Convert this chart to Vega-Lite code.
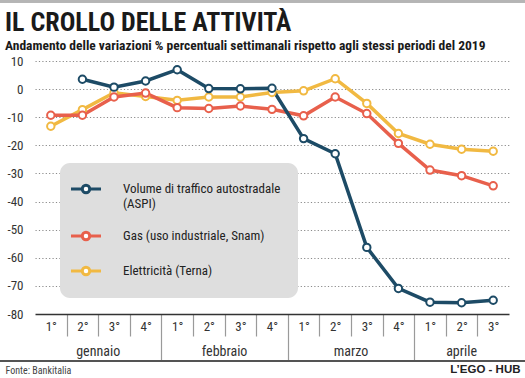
{
  "$schema": "https://vega.github.io/schema/vega-lite/v6.json",
  "width": 474,
  "height": 253,
  "autosize": "none",
  "padding": {"left": 35, "top": 61, "right": 16, "bottom": 64},
  "background": "white",
  "title": {
    "text": "IL CROLLO DELLE ATTIVITÀ",
    "subtitle": "Andamento delle variazioni % percentuali settimanali rispetto agli stessi periodi del 2019",
    "anchor": "start",
    "frame": "group",
    "dx": -30,
    "dy": 62,
    "offset": 9,
    "font": "'Roboto Condensed', 'DejaVu Sans Condensed', 'Liberation Sans Narrow', Roboto",
    "fontSize": 26,
    "fontWeight": "bold",
    "color": "#1a1a1a",
    "subtitleFont": "'Roboto Condensed', 'DejaVu Sans Condensed', 'Liberation Sans Narrow', Roboto",
    "subtitleFontSize": 13.5,
    "subtitleFontWeight": "bold",
    "subtitleColor": "#1a1a1a",
    "subtitlePadding": 3
  },
  "config": {
    "view": {"stroke": null},
    "font": "'Roboto Condensed', 'DejaVu Sans Condensed', 'Liberation Sans Narrow', Roboto",
    "axis": {"labelOverlap": false},
    "legend": {
      "orient": "none",
      "legendX": 25,
      "legendY": 102,
      "fillColor": "#dedede",
      "cornerRadius": 10,
      "padding": 17,
      "labelFontSize": 13,
      "labelColor": "#222222",
      "labelLimit": 300,
      "labelOffset": 28,
      "rowPadding": 15,
      "symbolType": "M -2 0 L -0.55 0 M 0.55 0 L 2 0 M 0.5 0 A 0.5 0.5 0 1 1 -0.5 0 A 0.5 0.5 0 1 1 0.5 0",
      "symbolSize": 225,
      "symbolStrokeWidth": 3,
      "symbolFillColor": "white"
    }
  },
  "data": {
    "values": [
      {"serie": "Elettricità (Terna)", "mese": "gennaio", "w": 0, "valore": -13.2},
      {"serie": "Elettricità (Terna)", "mese": "gennaio", "w": 1, "valore": -7.3},
      {"serie": "Elettricità (Terna)", "mese": "gennaio", "w": 2, "valore": -1.3},
      {"serie": "Elettricità (Terna)", "mese": "gennaio", "w": 3, "valore": -2.6},
      {"serie": "Elettricità (Terna)", "mese": "febbraio", "w": 4, "valore": -4.0},
      {"serie": "Elettricità (Terna)", "mese": "febbraio", "w": 5, "valore": -2.8},
      {"serie": "Elettricità (Terna)", "mese": "febbraio", "w": 6, "valore": -2.8},
      {"serie": "Elettricità (Terna)", "mese": "febbraio", "w": 7, "valore": -1.2},
      {"serie": "Elettricità (Terna)", "mese": "marzo", "w": 8, "valore": -0.6},
      {"serie": "Elettricità (Terna)", "mese": "marzo", "w": 9, "valore": 3.7},
      {"serie": "Elettricità (Terna)", "mese": "marzo", "w": 10, "valore": -5.1},
      {"serie": "Elettricità (Terna)", "mese": "marzo", "w": 11, "valore": -15.8},
      {"serie": "Elettricità (Terna)", "mese": "aprile", "w": 12, "valore": -19.6},
      {"serie": "Elettricità (Terna)", "mese": "aprile", "w": 13, "valore": -21.4},
      {"serie": "Elettricità (Terna)", "mese": "aprile", "w": 14, "valore": -22.1},
      {"serie": "Gas (uso industriale, Snam)", "mese": "gennaio", "w": 0, "valore": -9.3},
      {"serie": "Gas (uso industriale, Snam)", "mese": "gennaio", "w": 1, "valore": -9.3},
      {"serie": "Gas (uso industriale, Snam)", "mese": "gennaio", "w": 2, "valore": -2.8},
      {"serie": "Gas (uso industriale, Snam)", "mese": "gennaio", "w": 3, "valore": -1.4},
      {"serie": "Gas (uso industriale, Snam)", "mese": "febbraio", "w": 4, "valore": -6.6},
      {"serie": "Gas (uso industriale, Snam)", "mese": "febbraio", "w": 5, "valore": -6.9},
      {"serie": "Gas (uso industriale, Snam)", "mese": "febbraio", "w": 6, "valore": -6.0},
      {"serie": "Gas (uso industriale, Snam)", "mese": "febbraio", "w": 7, "valore": -7.2},
      {"serie": "Gas (uso industriale, Snam)", "mese": "marzo", "w": 8, "valore": -9.5},
      {"serie": "Gas (uso industriale, Snam)", "mese": "marzo", "w": 9, "valore": -2.8},
      {"serie": "Gas (uso industriale, Snam)", "mese": "marzo", "w": 10, "valore": -8.7},
      {"serie": "Gas (uso industriale, Snam)", "mese": "marzo", "w": 11, "valore": -19.3},
      {"serie": "Gas (uso industriale, Snam)", "mese": "aprile", "w": 12, "valore": -28.8},
      {"serie": "Gas (uso industriale, Snam)", "mese": "aprile", "w": 13, "valore": -30.8},
      {"serie": "Gas (uso industriale, Snam)", "mese": "aprile", "w": 14, "valore": -34.4},
      {"serie": "Volume di traffico autostradale (ASPI)", "mese": "gennaio", "w": 1, "valore": 3.5},
      {"serie": "Volume di traffico autostradale (ASPI)", "mese": "gennaio", "w": 2, "valore": 0.7},
      {"serie": "Volume di traffico autostradale (ASPI)", "mese": "gennaio", "w": 3, "valore": 2.9},
      {"serie": "Volume di traffico autostradale (ASPI)", "mese": "febbraio", "w": 4, "valore": 6.9},
      {"serie": "Volume di traffico autostradale (ASPI)", "mese": "febbraio", "w": 5, "valore": 0.2},
      {"serie": "Volume di traffico autostradale (ASPI)", "mese": "febbraio", "w": 6, "valore": 0.1},
      {"serie": "Volume di traffico autostradale (ASPI)", "mese": "febbraio", "w": 7, "valore": 0.3},
      {"serie": "Volume di traffico autostradale (ASPI)", "mese": "marzo", "w": 8, "valore": -17.6},
      {"serie": "Volume di traffico autostradale (ASPI)", "mese": "marzo", "w": 9, "valore": -23.0},
      {"serie": "Volume di traffico autostradale (ASPI)", "mese": "marzo", "w": 10, "valore": -56.3},
      {"serie": "Volume di traffico autostradale (ASPI)", "mese": "marzo", "w": 11, "valore": -70.9},
      {"serie": "Volume di traffico autostradale (ASPI)", "mese": "aprile", "w": 12, "valore": -75.8},
      {"serie": "Volume di traffico autostradale (ASPI)", "mese": "aprile", "w": 13, "valore": -76.0},
      {"serie": "Volume di traffico autostradale (ASPI)", "mese": "aprile", "w": 14, "valore": -75.1}
    ]
  },
  "layer": [
    {
      "mark": {"type": "rule", "stroke": "#b5b5b5", "strokeWidth": 3, "clip": false},
      "encoding": {
        "x": {"datum": -1.7, "scale": {"domain": [-0.5, 14.5], "nice": false, "zero": false}},
        "x2": {"datum": 15.1},
        "y": {"datum": 31.3, "scale": {"domain": [-80, 10], "nice": false, "zero": false}}
      }
    },
    {
      "mark": {"type": "rule", "stroke": "#555555", "strokeWidth": 1.5, "clip": false},
      "encoding": {
        "x": {"datum": -1.7},
        "x2": {"datum": 15.1},
        "y": {"datum": -96.7}
      }
    },
    {
      "mark": {"type": "line", "strokeWidth": 3.5},
      "encoding": {
        "x": {
          "field": "w",
          "type": "quantitative",
          "scale": {"domain": [-0.5, 14.5], "nice": false, "zero": false},
          "axis": {
            "title": "Fonte: Bankitalia",
            "titleFontSize": 10,
            "titleFontWeight": "normal",
            "titleColor": "#444444",
            "titleAnchor": "start",
            "titleAlign": "left",
            "titleBaseline": "alphabetic",
            "titleX": -30,
            "titleY": 59,
            "values": [0, 1, 2, 3, 4, 5, 6, 7, 8, 9, 10, 11, 12, 13, 14],
            "tickCount": 40,
            "labelExpr": "(datum.value % 4 + 1) + '°'",
            "labelOverlap": false,
            "labelFlush": false,
            "labelBound": false,
            "labelFontSize": 13,
            "labelColor": "#333333",
            "labelPadding": {"condition": {"test": "datum.value == 3 || datum.value == 7 || datum.value == 11", "value": -40}, "value": -16},
            "labelBaseline": "top",
            "tickOffset": 15.8,
            "labelOffset": -15.8,
            "grid": false,
            "domainColor": "#333333",
            "domainWidth": 1.5,
            "tickColor": "#9a9a9a",
            "tickWidth": 1.2,
            "tickOpacity": {"condition": {"test": "datum.value == 14", "value": 0}, "value": 1},
            "tickSize": {"condition": {"test": "datum.value == 3 || datum.value == 7 || datum.value == 11", "value": 46}, "value": 22}
          }
        },
        "y": {
          "field": "valore",
          "type": "quantitative",
          "scale": {"domain": [-80, 10], "nice": false, "zero": false},
          "axis": {
            "title": "L’EGO - HUB",
            "titleFont": "Liberation Sans",
            "titleFontSize": 11.5,
            "titleFontWeight": "bold",
            "titleColor": "#222222",
            "titleAngle": 0,
            "titleAlign": "right",
            "titleBaseline": "alphabetic",
            "titleX": 485,
            "titleY": 311,
            "values": [10, 0, -10, -20, -30, -40, -50, -60, -70, -80],
            "tickCount": 40,
            "labelExpr": "'' + datum.value",
            "labelOverlap": false,
            "labelFontSize": 13,
            "labelColor": "#333333",
            "labelPadding": 12,
            "ticks": false,
            "domain": false,
            "grid": true,
            "gridColor": "#8a8a8a",
            "gridWidth": 1,
            "gridDash": [1.2, 2.2],
            "gridOpacity": {"condition": {"test": "datum.value == -80", "value": 0}, "value": 1}
          }
        },
        "color": {
          "field": "serie",
          "type": "nominal",
          "scale": {
            "domain": ["Volume di traffico autostradale (ASPI)", "Gas (uso industriale, Snam)", "Elettricità (Terna)"],
            "range": ["#1d4b66", "#e8604c", "#f1b942"]
          },
          "legend": {
            "title": null,
            "labelExpr": "datum.label == 'Volume di traffico autostradale (ASPI)' ? ['Volume di traffico autostradale', '(ASPI)'] : datum.label"
          }
        }
      }
    },
    {
      "mark": {"type": "point", "filled": false, "fill": "white", "fillOpacity": 1, "size": 55, "strokeWidth": 2, "opacity": 1},
      "encoding": {
        "x": {"field": "w", "type": "quantitative"},
        "y": {"field": "valore", "type": "quantitative"},
        "color": {"field": "serie", "type": "nominal"}
      }
    },
    {
      "transform": [
        {"filter": "datum.serie == 'Gas (uso industriale, Snam)'"},
        {"aggregate": [{"op": "mean", "field": "w", "as": "centro"}], "groupby": ["mese"]}
      ],
      "mark": {"type": "text", "fontSize": 14, "color": "#333333", "baseline": "middle", "clip": false},
      "encoding": {
        "x": {"field": "centro", "type": "quantitative"},
        "y": {"datum": -93.5},
        "text": {"field": "mese"}
      }
    }
  ]
}
